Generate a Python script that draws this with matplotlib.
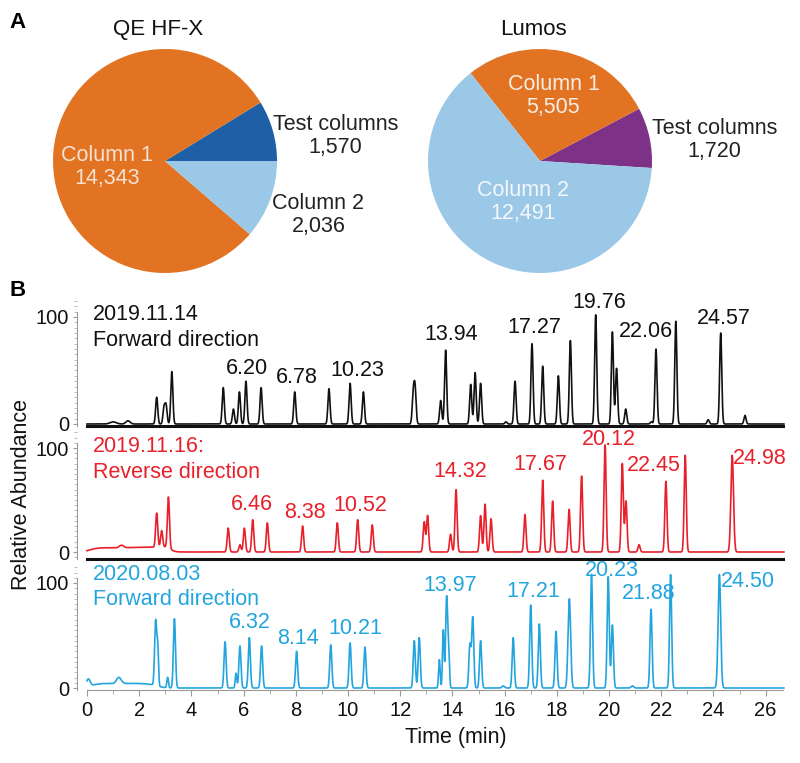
import numpy as np
import matplotlib.pyplot as plt
from matplotlib.ticker import MultipleLocator, FixedLocator

plt.rcParams['font.family'] = ['Liberation Sans', 'DejaVu Sans']

W, H = 800, 763

# ---------------- panel A: identifications per column ----------------
pie_labels = ["Test columns", "Column 1", "Column 2"]
qe_counts = [1570, 14343, 2036]
lumos_counts = [1720, 5505, 12491]
qe_colors = ['#1E5FA5', '#E17323', '#9BC8E6']
lumos_colors = ['#7D3287', '#E17323', '#9BC8E6']

# ---------------- panel B: chromatogram peaks (apex time in min, height in %) ----------------
fwd1_rt = [1.00, 1.57, 2.67, 2.95, 3.03, 3.25, 5.22, 5.61, 5.84, 6.09, 6.67, 7.96, 9.27,
           10.08, 10.59, 12.50, 12.57, 13.55, 13.74, 14.70, 14.87, 15.08, 16.05, 16.40,
           17.05, 17.46, 18.06, 18.52, 19.49, 20.13, 20.29, 20.64, 21.62, 21.80, 22.56,
           23.80, 24.28, 25.21]
fwd1_h = [2, 3, 25, 15, 17, 49, 34, 14, 30, 40, 34, 30, 33,
          38, 30, 27, 32, 22, 69, 37, 48, 38, 2, 40,
          75, 54, 45, 78, 102, 86, 52, 14, 2, 70, 96,
          4, 85, 8]
fwd1_w = [0.12, 0.08] + [0.04] * 36

rev_rt = [0.30, 0.75, 1.25, 1.32, 1.75, 2.25, 2.75, 3.05, 2.67, 2.86, 3.12, 5.41, 5.86,
          6.03, 6.35, 6.91, 8.26, 9.59, 10.37, 10.93, 12.92, 13.05, 13.93, 14.14, 15.08,
          15.25, 15.48, 16.78, 17.46, 17.84, 18.47, 18.95, 19.85, 20.51, 20.65, 21.15,
          22.18, 22.92, 24.72]
rev_h = [2.2, 3.0, 2.5, 2.5, 3.0, 3.0, 3.3, 2.5, 33, 16, 49, 23, 7,
         23, 31, 28, 25, 28, 31, 26, 29, 35, 17, 60, 35,
         46, 32, 36, 69, 49, 41, 73, 103, 85, 49, 7,
         68, 93, 93]
rev_w = [0.25, 0.3, 0.3, 0.08, 0.3, 0.3, 0.3, 0.15] + [0.04] * 30 + [0.05]

fwd2_rt = [0.05, 0.35, 0.80, 1.22, 1.30, 1.75, 2.20, 2.55, 2.63, 2.71, 3.09, 3.35, 5.29,
           5.71, 5.86, 6.22, 6.69, 8.03, 9.34, 10.08, 10.65, 12.54, 12.73, 13.50, 13.65,
           13.78, 13.86, 14.67, 14.78, 15.08, 15.95, 16.33, 17.00, 17.33, 17.97, 18.48,
           19.33, 19.97, 20.13, 20.90, 21.61, 22.36, 24.23]
fwd2_h = [7, 2.5, 2.8, 6, 2.5, 2.8, 2.5, 1.5, 62, 35, 10, 66, 44,
          14, 40, 48, 40, 35, 41, 43, 39, 45, 48, 27, 55,
          87, 30, 41, 67, 45, 2, 48, 79, 61, 54, 85,
          108, 106, 60, 2, 75, 108, 108]
fwd2_w = [0.07, 0.3, 0.3, 0.09, 0.3, 0.3, 0.3, 0.25, 0.04, 0.03, 0.03, 0.04, 0.04,
          0.03, 0.04, 0.04, 0.04, 0.04, 0.04, 0.04, 0.04, 0.04, 0.04, 0.03, 0.03,
          0.04, 0.03, 0.04, 0.04, 0.04, 0.05, 0.04, 0.04, 0.04, 0.04, 0.05,
          0.04, 0.04, 0.04, 0.05, 0.04, 0.04, 0.05]

fwd1_ann = ["6.20", "6.78", "10.23", "13.94", "17.27", "19.76", "22.06", "24.57"]
rev_ann = ["6.46", "8.38", "10.52", "14.32", "17.67", "20.12", "22.45", "24.98"]
fwd2_ann = ["6.32", "8.14", "10.21", "13.97", "17.21", "20.23", "21.88", "24.50"]

time_ticks = [0, 2, 4, 6, 8, 10, 12, 14, 16, 18, 20, 22, 24, 26]

# annotation placement (time, height in panel units)
fwd1_ann_pos = [(6.13, 52), (8.05, 43), (10.34, 50), (13.95, 84), (17.13, 90),
                (19.62, 114), (21.41, 86), (24.41, 99)]
rev_ann_pos = [(6.31, 46), (8.35, 38), (10.46, 45), (14.29, 77), (17.36, 84),
               (20.0, 108), (21.7, 83), (25.79, 90)]
fwd2_ann_pos = [(6.22, 62), (8.10, 47), (10.27, 57), (13.91, 98), (17.08, 92),
                (20.1, 112), (21.53, 90), (25.34, 101)]


def px_rect(left, top, width, height):
    return [left / W, 1 - (top + height) / H, width / W, height / H]


def trace(t, rt, h, w):
    y = np.zeros_like(t)
    for r, a, s in zip(rt, h, w):
        y += a * np.exp(-0.5 * ((t - r) / s) ** 2)
    return y


fig = plt.figure(figsize=(W / 100, H / 100), dpi=100)
FS = 15.5

# ---------------- pies ----------------
def draw_pie(rect, counts, colors, start, title, spots, txt_colors):
    ax = fig.add_axes(rect)
    ax.pie(counts, colors=colors, startangle=start, counterclock=True, radius=1,
           wedgeprops=dict(linewidth=0))
    ax.set_xlim(-1, 1)
    ax.set_ylim(-1, 1)
    ax.text(-0.06, 1.17, title, ha='center', va='center', fontsize=16, color='#111111')
    for lab, n, (x, y), c in zip(pie_labels, counts, spots, txt_colors):
        ax.text(x, y, f"{lab}\n{n:,}", ha='center', va='center', fontsize=FS,
                color=c, linespacing=1.12)


draw_pie(px_rect(53, 49, 224, 224), qe_counts, qe_colors, 0, "QE HF-X",
         [(1.52, 0.22), (-0.52, -0.05), (1.37, -0.48)],
         ['#222222', '#F6E2D2', '#222222'])
draw_pie(px_rect(428, 49, 224, 224), lumos_counts, lumos_colors, -3.6, "Lumos",
         [(1.56, 0.19), (0.12, 0.58), (-0.15, -0.37)],
         ['#222222', '#F8EDE4', '#F4F8FC'])

fig.text(18 / W, 1 - 22 / H, "A", fontsize=16, fontweight='bold', ha='center', va='center')
fig.text(18 / W, 1 - 290 / H, "B", fontsize=16, fontweight='bold', ha='center', va='center')

# ---------------- chromatograms ----------------
t = np.linspace(0, 26.7, 8000)
xmax = 696 / 26.1

panels = [
    dict(top=300, bottom=426, zero=424, s=1.07, color='#111111',
         y=trace(t, fwd1_rt, fwd1_h, fwd1_w),
         head=("2019.11.14", "Forward direction"), head_y=(102, 78),
         ann=fwd1_ann, pos=fwd1_ann_pos),
    dict(top=430, bottom=559, zero=552, s=1.04, color='#E8202A',
         y=trace(t, rev_rt, rev_h, rev_w),
         head=("2019.11.16:", "Reverse direction"), head_y=(101, 76),
         ann=rev_ann, pos=rev_ann_pos),
    dict(top=566, bottom=690, zero=688, s=1.05, color='#22A5DE',
         y=trace(t, fwd2_rt, fwd2_h, fwd2_w),
         head=("2020.08.03", "Forward direction"), head_y=(108, 84),
         ann=fwd2_ann, pos=fwd2_ann_pos),
]

for i, p in enumerate(panels):
    ax = fig.add_axes(px_rect(87, p['top'], 696, p['bottom'] - p['top']))
    ax.patch.set_alpha(0)
    ylo = -(p['bottom'] - p['zero']) / p['s']
    yhi = (p['zero'] - p['top']) / p['s']
    ax.set_ylim(ylo, yhi)
    ax.set_xlim(0, xmax)
    ax.plot(t, p['y'], color=p['color'], lw=1.2, clip_on=False)

    for side in ['top', 'right']:
        ax.spines[side].set_visible(False)
    ax.spines['left'].set_position(('outward', 7))
    ax.spines['left'].set_color('#9a9a9a')
    ax.spines['left'].set_linewidth(0.8)
    ax.spines['left'].set_bounds(ylo, 105)

    ax.yaxis.set_major_locator(FixedLocator([0, 100]))
    ax.yaxis.set_minor_locator(MultipleLocator(5))
    ax.tick_params(axis='y', which='major', length=3, width=0.8, color='#9a9a9a',
                   labelsize=14.5, pad=3, labelcolor='#111111')
    ax.tick_params(axis='y', which='minor', length=2.5, width=0.6, color='#b0b0b0')

    if i < 2:
        ax.spines['bottom'].set_color('#111111')
        ax.spines['bottom'].set_linewidth(2.2)
        ax.tick_params(axis='x', which='both', bottom=False, labelbottom=False)
    else:
        ax.spines['bottom'].set_color('#9a9a9a')
        ax.spines['bottom'].set_linewidth(0.8)
        ax.xaxis.set_major_locator(FixedLocator(time_ticks))
        ax.xaxis.set_minor_locator(MultipleLocator(1))
        ax.tick_params(axis='x', which='major', length=4, width=0.8, color='#9a9a9a',
                       labelsize=14.5, pad=4, labelcolor='#111111')
        ax.tick_params(axis='x', which='minor', length=3, width=0.6, color='#9a9a9a')

    ax.text(0.23, p['head_y'][0], p['head'][0], ha='left', va='center',
            fontsize=FS, color=p['color'])
    ax.text(0.23, p['head_y'][1], p['head'][1], ha='left', va='center',
            fontsize=FS, color=p['color'])
    for txt, (x, y) in zip(p['ann'], p['pos']):
        ax.text(x, y, txt, ha='center', va='center', fontsize=FS, color=p['color'])

fig.text(22 / W, 1 - 494 / H, "Relative Abundance", rotation=90, ha='center',
         va='center', fontsize=FS, color='#111111')
fig.text(456 / W, 1 - 738 / H, "Time (min)", ha='center', va='center',
         fontsize=FS, color='#111111')

fig.savefig("out.png", dpi=100, facecolor='white')
